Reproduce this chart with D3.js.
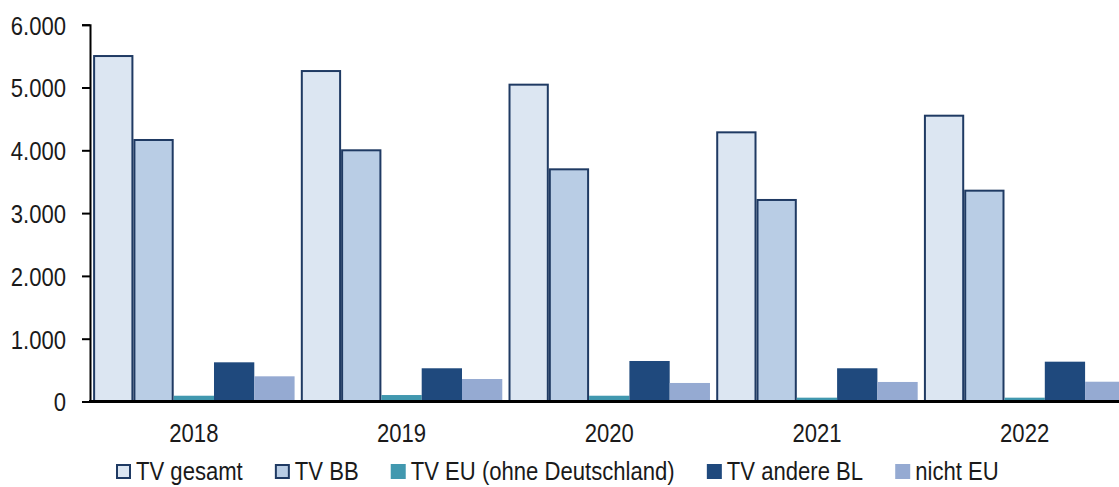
<!DOCTYPE html>
<html>
<head>
<meta charset="utf-8">
<script src="https://cdn.jsdelivr.net/npm/d3@7"></script>
<style>
  html, body { margin: 0; padding: 0; background: #fff; }
  svg { display: block; }
  text { font-family: "Liberation Sans", Arial, sans-serif; fill: #1a1a1a; }
</style>
</head>
<body>
<svg id="chart" width="1119" height="487"></svg>
<script>
const years = ["2018", "2019", "2020", "2021", "2022"];
const seriesNames = ["TV gesamt", "TV BB", "TV EU (ohne Deutschland)", "TV andere BL", "nicht EU"];
const tvGesamt = [5517, 5278, 5061, 4302, 4567];
const tvBB = [4180, 4016, 3713, 3225, 3373];
const tvEU = [92, 103, 92, 61, 61];
const tvAndereBL = [624, 529, 645, 529, 634];
const nichtEU = [401, 358, 295, 311, 315];
const yTicks = [0, 1000, 2000, 3000, 4000, 5000, 6000];
const yTickLabels = ["0", "1.000", "2.000", "3.000", "4.000", "5.000", "6.000"];

const seriesValues = [tvGesamt, tvBB, tvEU, tvAndereBL, nichtEU];
const fills = ["#dce6f2", "#b9cde5", "#4198af", "#1f497d", "#95aad2"];
const strokes = ["#1f3a63", "#1f3a63", null, null, null];
const SX = 0.85; // condensed look
const FS = "26px";

function narrow(sel) {
  sel.each(function () {
    const t = d3.select(this);
    const x = +(t.attr("x") || 0);
    t.attr("x", x / SX).attr("transform", `scale(${SX},1)`);
  });
}

const svg = d3.select("#chart");
const x0 = d3.scaleBand().domain(years).range([90, 1128.5]).paddingInner(0.03).paddingOuter(0.015);
const x1 = d3.scaleBand().domain(seriesNames).range([0, x0.bandwidth()]);
const y = d3.scaleLinear().domain([0, 6000]).range([401.5, 24.7]);

// bars
seriesNames.forEach((s, si) => {
  const st = strokes[si] ? 1 : 0;
  svg.append("g").selectAll("rect").data(years).join("rect")
    .attr("x", d => x0(d) + x1(s) + st)
    .attr("width", x1.bandwidth() - 2 * st)
    .attr("y", (d, i) => y(seriesValues[si][i]) + st)
    .attr("height", (d, i) => y(0) - y(seriesValues[si][i]) - st)
    .attr("fill", fills[si])
    .attr("stroke", strokes[si] || "none")
    .attr("stroke-width", strokes[si] ? 2 : 0);
});

// y axis
const yAxis = d3.axisLeft(y).tickValues(yTicks).tickFormat((d, i) => yTickLabels[i]).tickSize(8).tickPadding(16);
const gy = svg.append("g").attr("transform", "translate(90,0)").call(yAxis);
gy.select(".domain").attr("stroke", "#000").attr("stroke-width", 2);
gy.selectAll(".tick line").attr("stroke", "#000").attr("stroke-width", 2);
gy.selectAll("text").style("font-size", FS).attr("fill", "#1a1a1a").attr("dy", "0.36em").call(narrow);

// x axis
const xAxis = d3.axisBottom(x0).tickSize(0).tickPadding(22);
const gx = svg.append("g").attr("transform", `translate(0,${y(0)})`).call(xAxis);
gx.select(".domain").attr("stroke", "#000").attr("stroke-width", 3).attr("d", `M89,0H1119`);
gx.selectAll("text").style("font-size", FS).attr("fill", "#1a1a1a").call(narrow);

// legend
const legend = svg.append("g").attr("transform", "translate(116,471)");
let cx = 0;
seriesNames.forEach((s, si) => {
  const item = legend.append("g").attr("transform", `translate(${cx},0)`);
  item.append("rect")
    .attr("x", strokes[si] ? 1 : 0).attr("y", strokes[si] ? -6 : -7)
    .attr("width", strokes[si] ? 13 : 15).attr("height", strokes[si] ? 13 : 15)
    .attr("fill", fills[si])
    .attr("stroke", strokes[si] || "none")
    .attr("stroke-width", strokes[si] ? 2 : 0);
  const t = item.append("text").attr("x", 20).attr("y", 0).attr("dy", "0.36em")
    .style("font-size", FS).text(s);
  const w = t.node().getComputedTextLength() * SX;
  t.call(narrow);
  cx += 20 + w + 32;
});
</script>
</body>
</html>
